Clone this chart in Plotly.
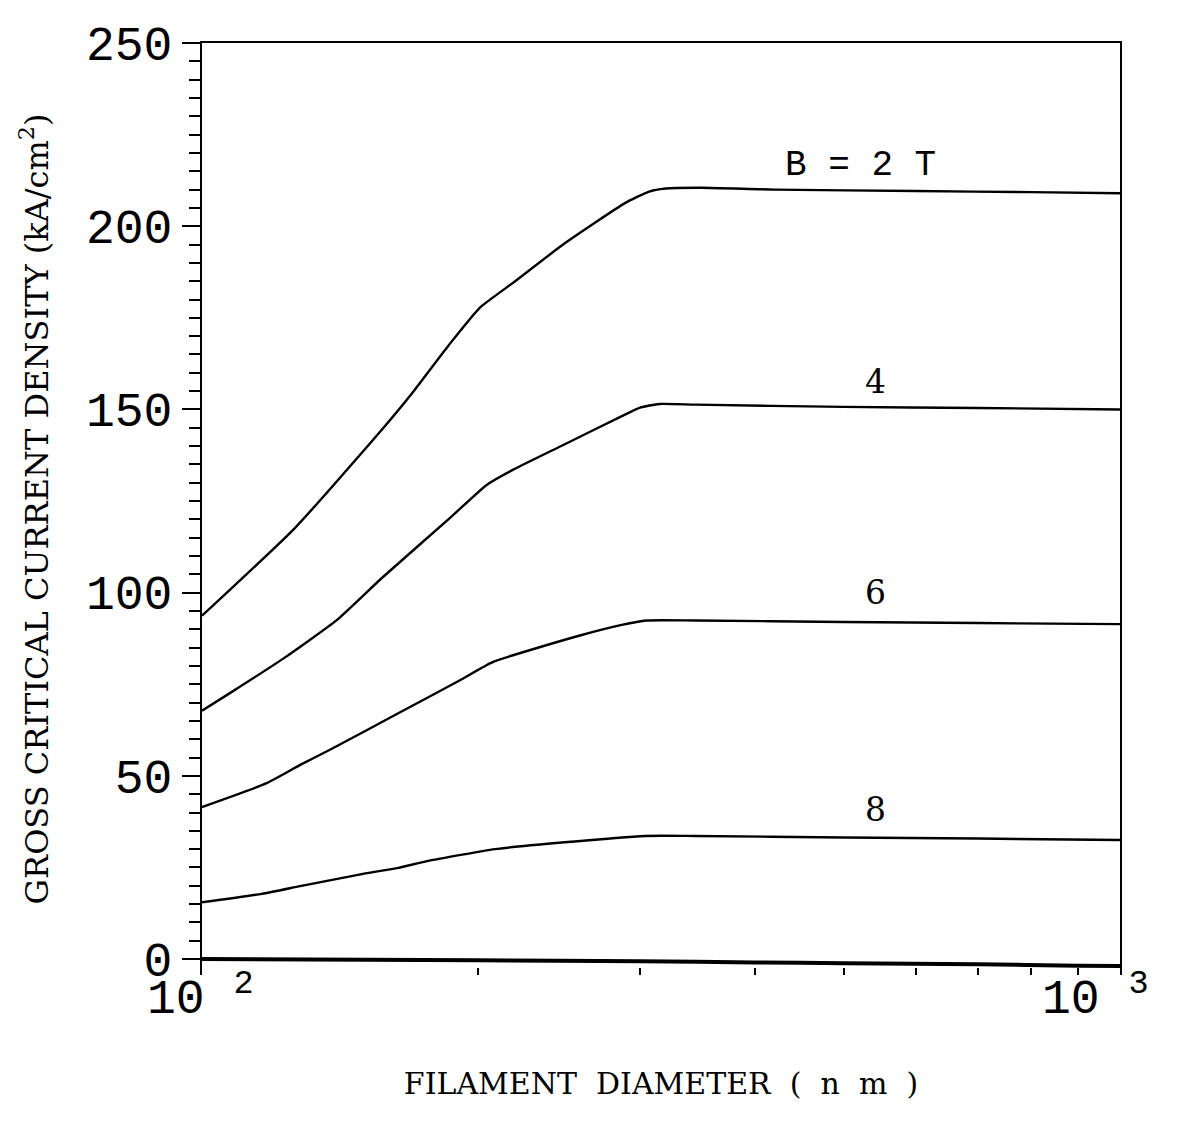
import math
import plotly.graph_objects as go

# ---- data ----
d_b2 = [100, 126.3, 156.3, 169.2, 185.5, 200.8, 218.3, 248.6, 288.9, 306.4, 320, 350, 420, 600, 800, 1000]
j_b2 = [93.7, 117.7, 143.9, 154.3, 167.4, 177.8, 184.6, 195.4, 206.3, 209.4, 210.3, 210.5, 210.0, 209.6, 209.3, 209.0]

d_b4 = [100, 108.2, 122.6, 140.2, 157.0, 186.3, 204.2, 218.0, 247.5, 288.9, 300, 315, 345, 500, 700, 1000]
j_b4 = [67.8, 73.2, 82.0, 92.5, 104.0, 120.4, 129.4, 133.5, 140.3, 148.6, 150.5, 151.5, 151.3, 150.7, 150.4, 150.0]

d_b6 = [100, 117.6, 128.4, 139.0, 163.6, 191.0, 207.6, 258.0, 286.6, 305.0, 345, 500, 700, 1000]
j_b6 = [41.5, 48.0, 53.2, 57.6, 67.1, 76.1, 81.1, 88.3, 91.2, 92.4, 92.4, 92.0, 91.7, 91.4]

d_b8 = [100, 116.2, 127.9, 149.3, 163.6, 176.4, 208.5, 246.5, 303.8, 344.4, 500, 700, 1000]
j_b8 = [15.5, 17.8, 19.9, 23.2, 24.9, 26.8, 30.0, 31.8, 33.6, 33.6, 33.2, 32.9, 32.5]

d_b10 = [100, 200, 300, 400, 500, 700, 900, 1000]
j_b10 = [0.0, -0.3, -0.6, -0.9, -1.1, -1.4, -1.8, -1.9]

series = [
    ("B = 2 T", d_b2, j_b2, 2.4),
    ("B = 4 T", d_b4, j_b4, 2.4),
    ("B = 6 T", d_b6, j_b6, 2.4),
    ("B = 8 T", d_b8, j_b8, 2.4),
    ("B = 10 T", d_b10, j_b10, 4.0),
]

curve_labels = ["B = 2 T", "4", "6", "8"]
label_x = [521, 541, 541, 541]
label_y = [216.6, 157.5, 100.0, 40.9]

x_tickvals = [100, 200, 300, 400, 500, 600, 700, 800, 900, 1000]
x_label_vals = [100, 1000]
x_label_text = ["10 <sup>2</sup>", "10 <sup>3</sup>"]
x_label_shift = [-2, -25]
y_tickvals = [0, 50, 100, 150, 200, 250]

mono = "Liberation Mono"
serif = "DejaVu Serif"

fig = go.Figure()
for name, xs, ys, w in series:
    fig.add_trace(go.Scatter(x=xs, y=ys, mode="lines", name=name,
                             line=dict(color="black", width=w, shape="spline", smoothing=0.5),
                             showlegend=False))

# empty trace on the top axis so the frame's top line is drawn by an axis
fig.add_trace(go.Scatter(x=[100, 1000], y=[None, None], xaxis="x2", showlegend=False))

for txt, lx, ly in zip(curve_labels, label_x, label_y):
    is_main = txt.startswith("B")
    fig.add_annotation(x=math.log10(lx), y=ly, text=txt, showarrow=False,
                       font=dict(family=mono if is_main else serif,
                                 size=36 if is_main else 33, color="black"))

# decade labels of the log axis (10^2, 10^3)
for val, txt, sh in zip(x_label_vals, x_label_text, x_label_shift):
    fig.add_annotation(x=math.log10(val), xref="x", y=0, yref="paper", text=txt,
                       showarrow=False, xanchor="center", yanchor="middle",
                       xshift=sh, yshift=-21,
                       font=dict(family=mono, size=48, color="black"))

fig.update_layout(
    width=1181, height=1113,
    margin=dict(l=194, r=69, t=29, b=146),
    paper_bgcolor="white", plot_bgcolor="white",
    xaxis=dict(type="log", range=[2, 3], showgrid=False, zeroline=False,
               showline=False, tickvals=x_tickvals, showticklabels=False,
               ticks="inside", ticklen=7, tickwidth=1.5, tickcolor="black",
               title=dict(text="FILAMENT  DIAMETER  (  n  m  )",
                          font=dict(family=serif, size=30, color="black"), standoff=97)),
    xaxis2=dict(type="log", range=[2, 3], overlaying="x", side="top",
                showgrid=False, zeroline=False, showline=True, linecolor="black",
                linewidth=2, ticks="", showticklabels=False),
    yaxis=dict(range=[-4.34, 250], showgrid=False, zeroline=False,
               showline=True, mirror=True, linecolor="black", linewidth=2,
               tickvals=y_tickvals, ticks="outside", ticklen=18, tickwidth=2,
               tickcolor="black",
               minor=dict(dtick=5, ticks="outside", ticklen=11, tickwidth=2, tickcolor="black"),
               tickfont=dict(family=mono, size=48, color="black"),
               title=dict(text="GROSS CRITICAL CURRENT DENSITY (kA/cm<sup>2</sup>)",
                          font=dict(family=serif, size=32, color="black"), standoff=28)),
)

fig.write_html("out.html")
